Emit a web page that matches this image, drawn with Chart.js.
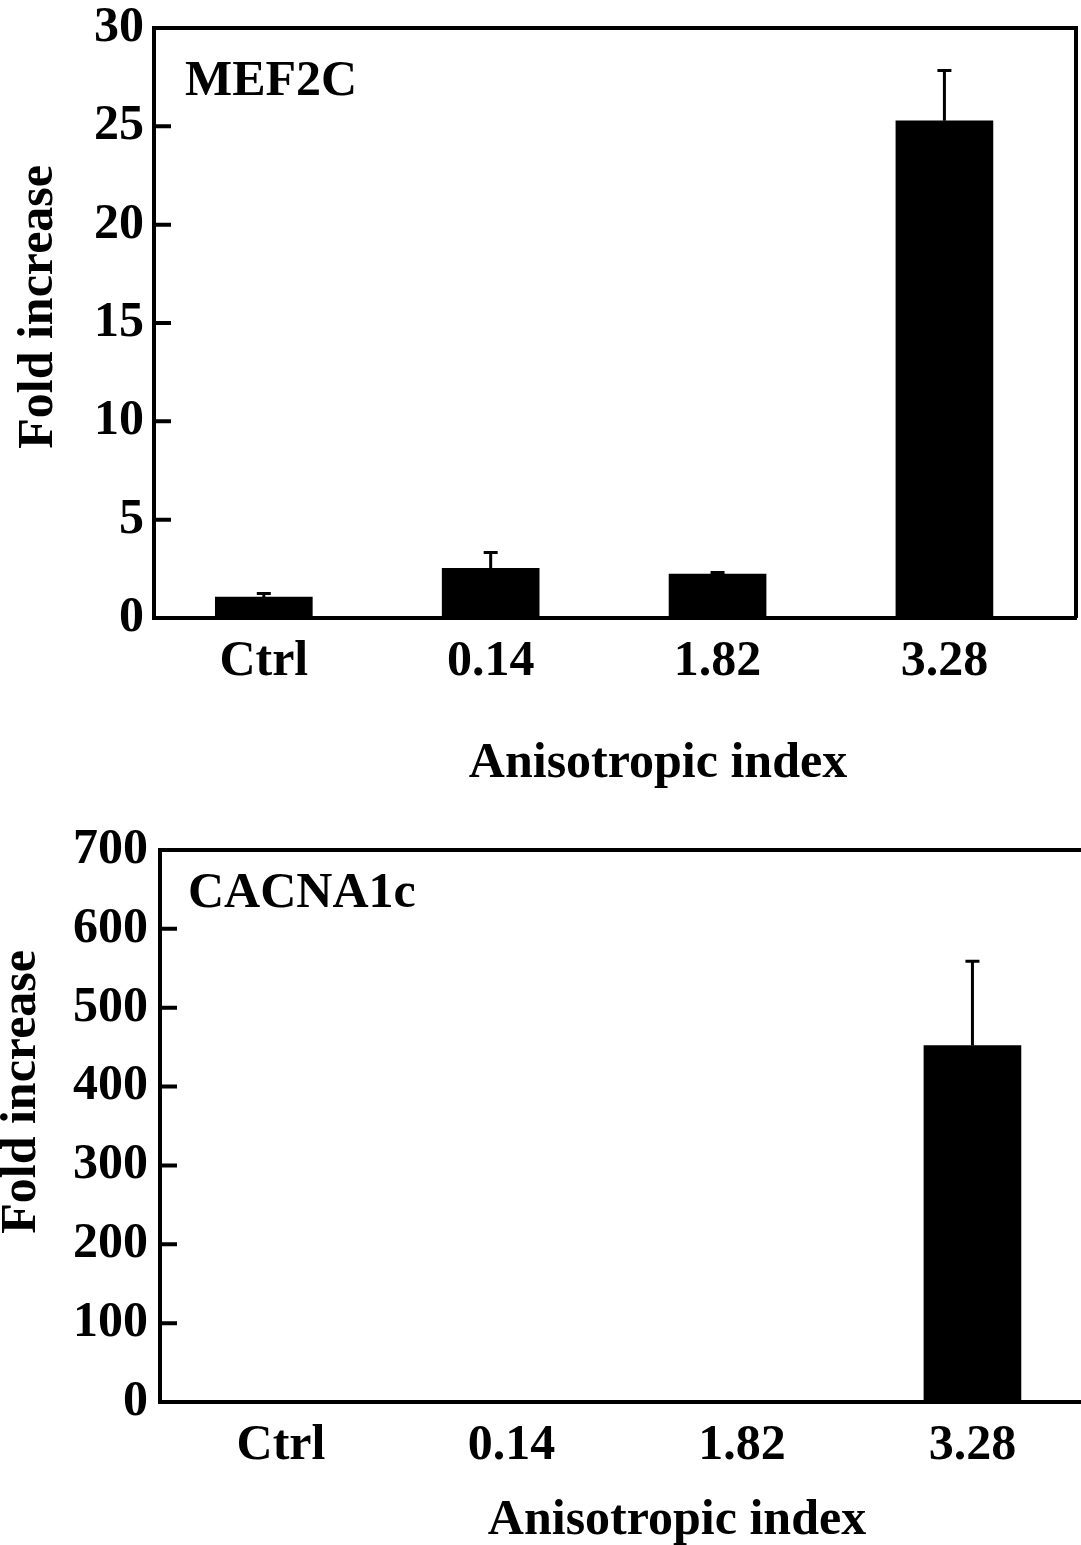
<!DOCTYPE html>
<html>
<head>
<meta charset="utf-8">
<script src="https://cdn.jsdelivr.net/npm/chart.js@4.4.1/dist/chart.umd.min.js"></script>
<style>
  html, body { margin: 0; padding: 0; background: #fff; }
  .panel { position: relative; width: 1081px; overflow: hidden; }
  #top { height: 800px; }
  #bottom { height: 745px; }
</style>
</head>
<body>
<div class="panel" id="top"><canvas id="mef2c"></canvas></div>
<div class="panel" id="bottom"><canvas id="cacna"></canvas></div>
<script>
const categories = ["Ctrl", "0.14", "1.82", "3.28"];

const mef2cMean = [1.07, 2.52, 2.23, 25.28];
const mef2cErr = [0.18, 0.81, 0.08, 2.56];

const cacnaMean = [1, 1.5, 2, 452];
const cacnaErr = [0, 0, 0, 107];

const FONT = '"Liberation Serif", "Times New Roman", serif';
Chart.defaults.font = { family: FONT, size: 50, weight: "bold" };
Chart.defaults.color = "#000";

// error bars, inward ticks, frame and titles
const decor = {
    id: "decor",
    afterDatasetsDraw(chart, args, opts) {
        const { ctx, chartArea: a } = chart;
        const y = chart.scales.y;
        const meta = chart.getDatasetMeta(0);
        ctx.save();
        ctx.strokeStyle = "#000";
        ctx.lineWidth = 3;
        meta.data.forEach((bar, i) => {
            const e = opts.err[i];
            if (!e) return;
            const y0 = y.getPixelForValue(opts.mean[i]);
            const y1 = y.getPixelForValue(opts.mean[i] + e);
            ctx.beginPath();
            ctx.moveTo(bar.x, y0);
            ctx.lineTo(bar.x, y1);
            ctx.moveTo(bar.x - 7, y1);
            ctx.lineTo(bar.x + 7, y1);
            ctx.stroke();
        });

        ctx.lineWidth = 4;
        ctx.beginPath();
        y.ticks.forEach((t) => {
            const py = y.getPixelForValue(t.value);
            ctx.moveTo(a.left, py);
            ctx.lineTo(a.left + 17, py);
        });
        ctx.moveTo(a.left - 2, a.top);
        ctx.lineTo(a.right + 2, a.top);
        if (opts.rightBorder) {
            ctx.moveTo(a.right, a.top);
            ctx.lineTo(a.right, a.bottom);
        }
        ctx.stroke();

        ctx.fillStyle = "#000";
        ctx.font = "bold 50px " + FONT;
        ctx.textBaseline = "alphabetic";
        ctx.textAlign = "left";
        ctx.fillText(opts.label, opts.labelX, opts.labelY);
        ctx.textAlign = "center";
        ctx.fillText("Anisotropic index", opts.xTitleX, opts.xTitleY);

        ctx.translate(opts.yTitleX, opts.yTitleY);
        ctx.rotate(-Math.PI / 2);
        ctx.textAlign = "right";
        ctx.fillText("Fold increase", 0, 0);
        ctx.restore();
    },
};

function noPad(s) {
    s.paddingTop = 0;
    s.paddingBottom = 0;
    s.paddingLeft = 0;
    s.paddingRight = 0;
}

function makeChart(id, mean, err, yMax, yStep, cfg) {
    return new Chart(document.getElementById(id), {
        type: "bar",
        data: {
            datasets: [{
                data: categories.map((c, i) => ({ x: i, y: mean[i] })),
                backgroundColor: "#000",
                borderWidth: 0,
                barThickness: 97,
            }],
        },
        options: {
            responsive: true,
            maintainAspectRatio: false,
            animation: false,
            layout: { padding: { top: cfg.top, right: cfg.right, left: 0, bottom: 0 } },
            plugins: {
                legend: { display: false },
                tooltip: { enabled: false },
                decor: { mean, err, ...cfg.decor },
            },
            scales: {
                x: {
                    type: "linear",
                    offset: false,
                    min: cfg.xMin,
                    max: cfg.xMax,
                    grid: { display: false, drawTicks: false },
                    border: { display: true, color: "#000", width: 4 },
                    afterBuildTicks: (s) => { s.ticks = categories.map((c, i) => ({ value: i })); },
                    afterFit: (s) => { s.height = cfg.xHeight; noPad(s); },
                    ticks: {
                        padding: 14,
                        maxRotation: 0,
                        autoSkip: false,
                        callback: (v) => categories[v],
                    },
                },
                y: {
                    min: 0,
                    max: yMax,
                    grid: { display: false, drawTicks: false },
                    border: { display: true, color: "#000", width: 4 },
                    afterFit: (s) => { s.width = cfg.yWidth; noPad(s); },
                    ticks: { stepSize: yStep, padding: cfg.yPad },
                },
            },
        },
        plugins: [decor],
    });
}

makeChart("mef2c", mef2cMean, mef2cErr, 30, 5, {
    top: 28, right: 5, xMin: -0.484, xMax: 3.58, xHeight: 182, yWidth: 154, yPad: 10,
    decor: {
        rightBorder: true,
        label: "MEF2C", labelX: 185, labelY: 95,
        xTitleX: 658, xTitleY: 777,
        yTitleX: 52, yTitleY: 165,
    },
});

makeChart("cacna", cacnaMean, cacnaErr, 700, 100, {
    top: 50, right: 0, xMin: -0.525, xMax: 3.471, xHeight: 143, yWidth: 160, yPad: 12,
    decor: {
        rightBorder: false,
        label: "CACNA1c", labelX: 188, labelY: 107,
        xTitleX: 677, xTitleY: 734,
        yTitleX: 35, yTitleY: 150,
    },
});
</script>
</body>
</html>
